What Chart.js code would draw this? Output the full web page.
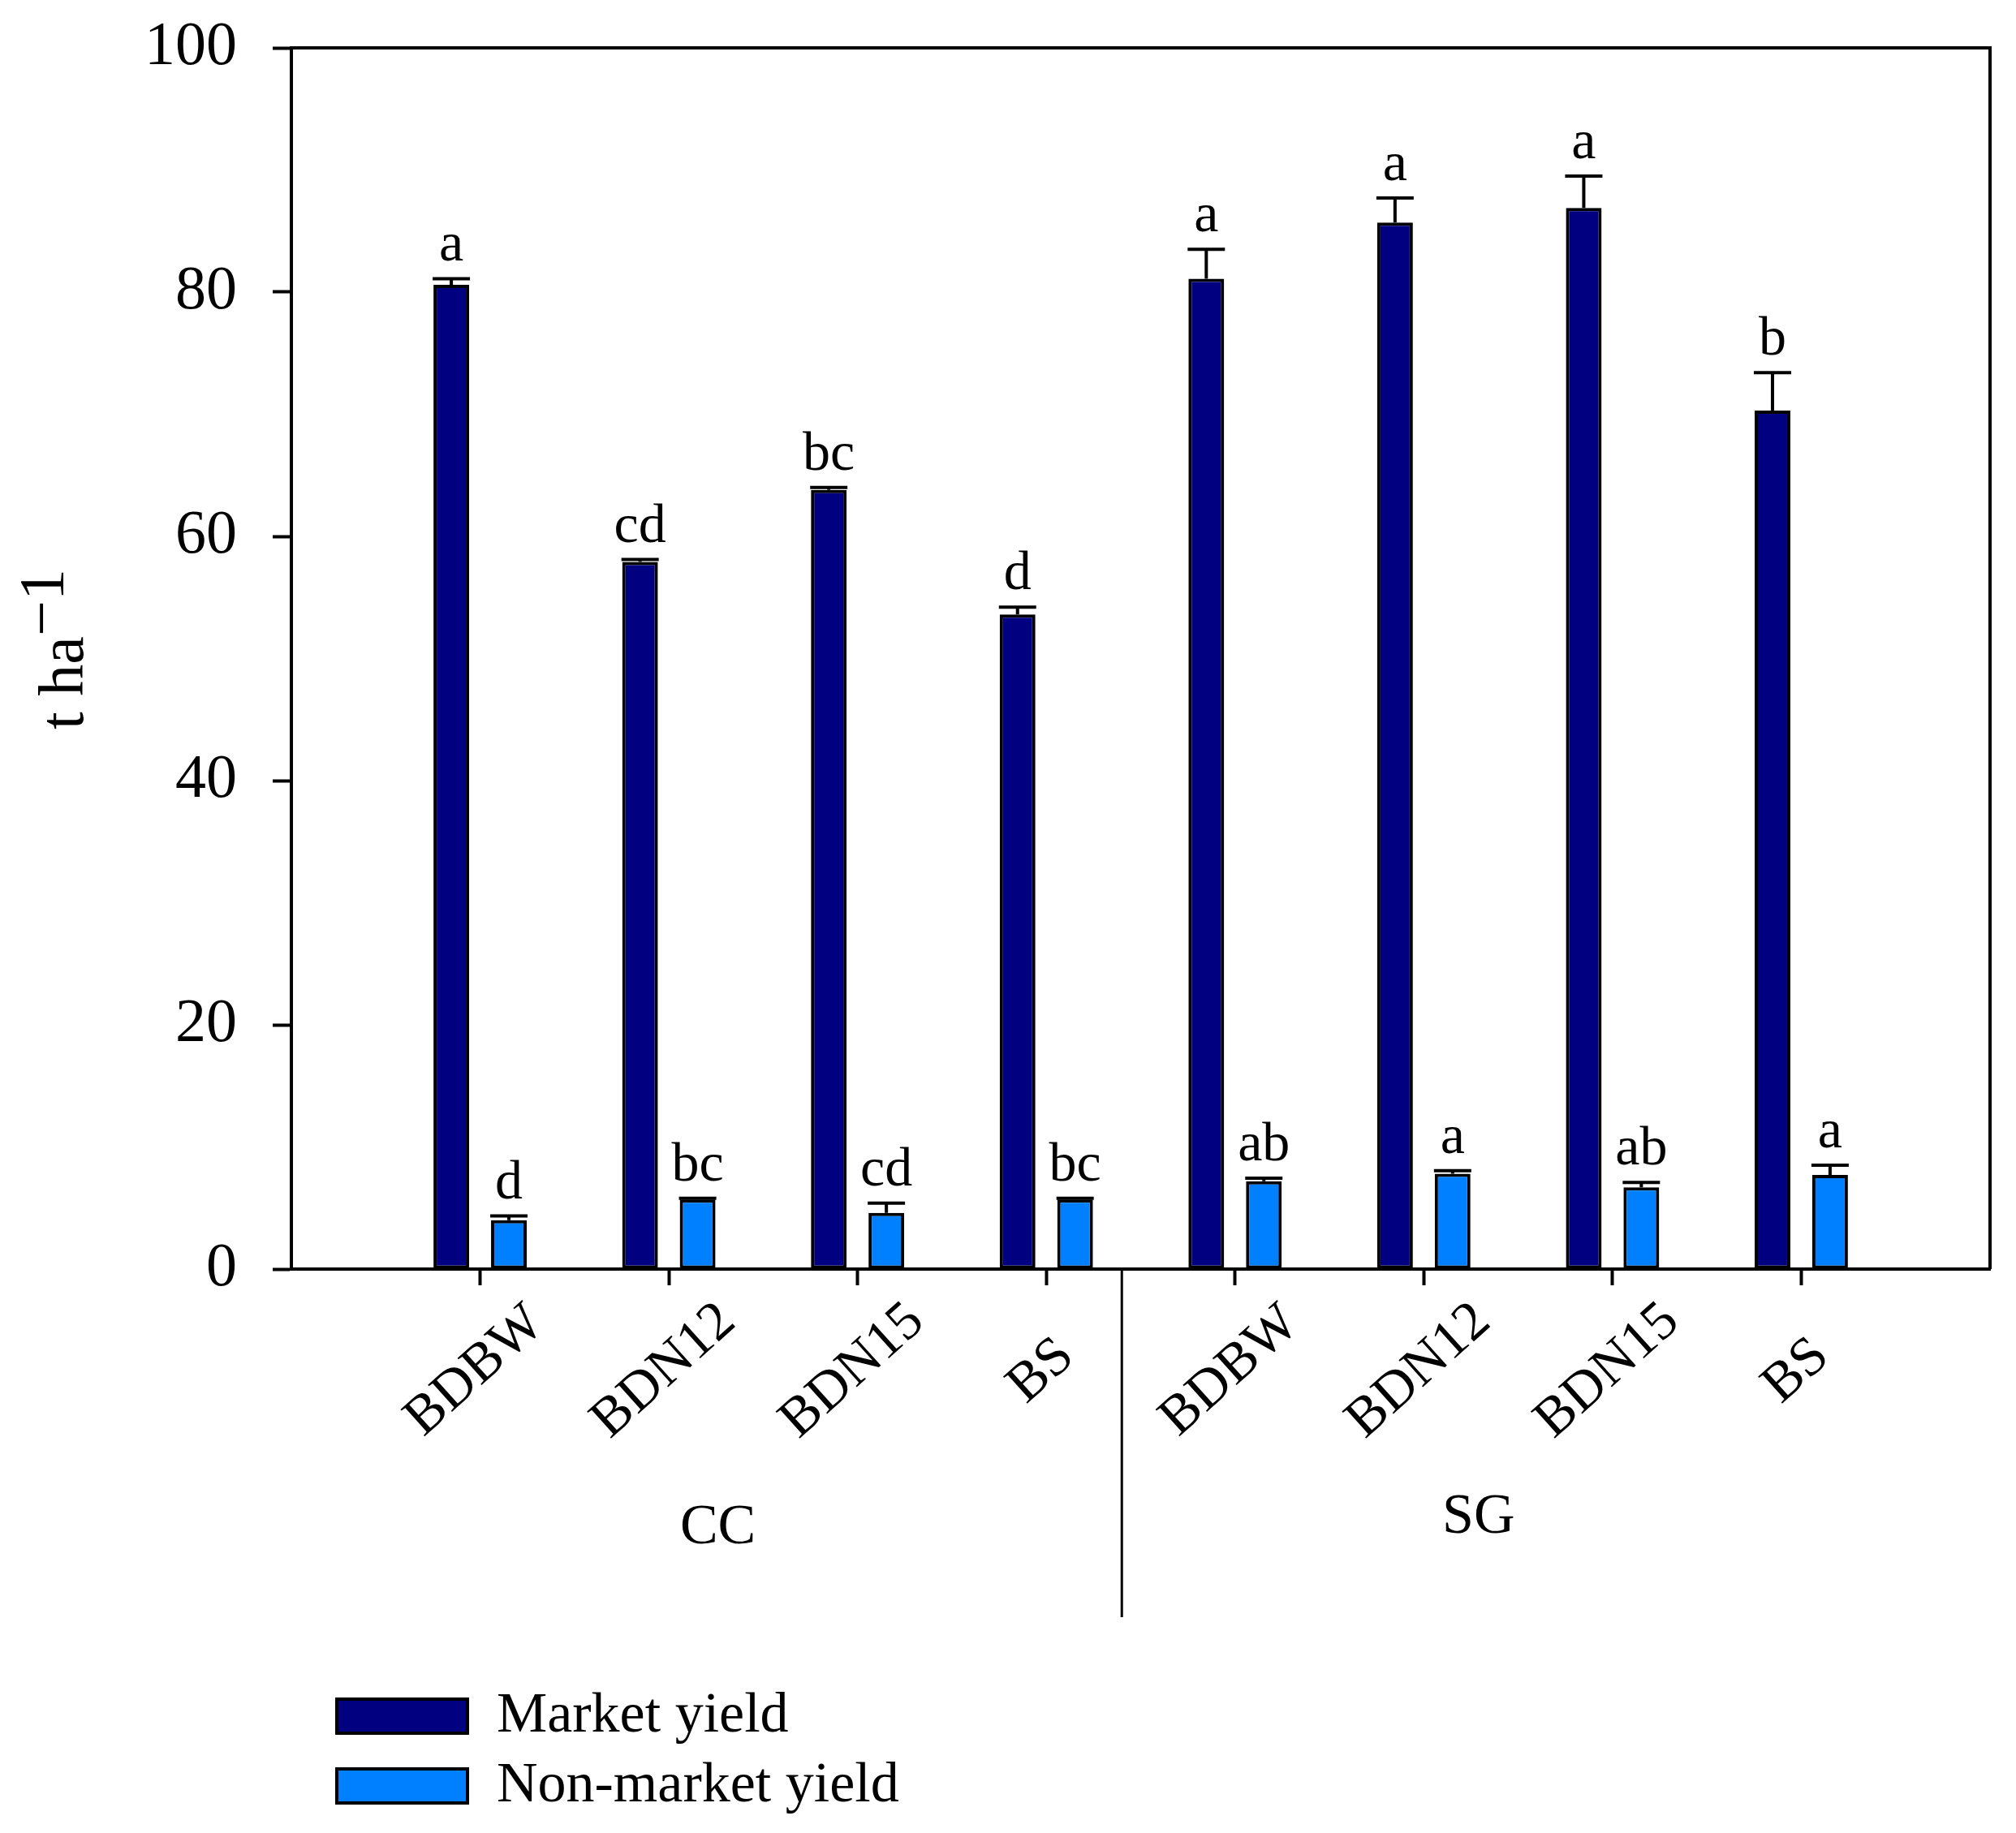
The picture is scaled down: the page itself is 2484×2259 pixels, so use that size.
<!DOCTYPE html>
<html>
<head>
<meta charset="utf-8">
<script src="https://cdn.jsdelivr.net/npm/chart.js@4.4.1/dist/chart.umd.min.js"></script>
<style>
  html, body { margin: 0; padding: 0; background: #fff; }
  #wrap { width: 2484px; height: 2259px; }
</style>
</head>
<body>
<div id="wrap"><canvas id="chart"></canvas></div>
<script>
// categories (treatments) within the two cropping groups
const categories = ['BDBW', 'BDN12', 'BDN15', 'BS', 'BDBW', 'BDN12', 'BDN15', 'BS'];
const groups = ['CC', 'SG'];

// t/ha
const marketYield = [80.6, 57.9, 63.8, 53.6, 81.1, 85.7, 86.9, 70.3];
const marketSE = [0.5, 0.2, 0.2, 0.6, 2.4, 2.0, 2.6, 3.1];
const nonMarketYield = [4.0, 5.7, 4.6, 5.7, 7.2, 7.8, 6.7, 7.7];
const nonMarketSE = [0.35, 0.1, 0.8, 0.1, 0.25, 0.25, 0.4, 0.8];

// significance letters above bars
const marketLetters = ['a', 'cd', 'bc', 'd', 'a', 'a', 'a', 'b'];
const nonMarketLetters = ['d', 'bc', 'cd', 'bc', 'ab', 'a', 'ab', 'a'];

const yTicks = [0, 20, 40, 60, 80, 100];
const seriesNames = ['Market yield', 'Non-market yield'];

const FONT = 'Liberation Serif';
const NAVY = '#000080';
const SKY = '#0080ff';

const toPoints = (vals) => vals.map((v, i) => ({ x: i + 1, y: v }));

// error bars + letters on top of each bar
const errorBarPlugin = {
  id: 'errorBars',
  afterDatasetsDraw(chart) {
    const { ctx } = chart;
    const y = chart.scales.y;
    chart.data.datasets.forEach((ds, di) => {
      const meta = chart.getDatasetMeta(di);
      meta.data.forEach((bar, i) => {
        const v = ds.data[i].y;
        const top = y.getPixelForValue(v + ds.se[i]);
        const base = y.getPixelForValue(v);
        const half = bar.width / 2 + 1;
        ctx.save();
        ctx.strokeStyle = '#000';
        ctx.lineWidth = 4;
        ctx.beginPath();
        ctx.moveTo(bar.x, base);
        ctx.lineTo(bar.x, top);
        ctx.moveTo(bar.x - half, top);
        ctx.lineTo(bar.x + half, top);
        ctx.stroke();
        ctx.fillStyle = '#000';
        ctx.font = `68px ${FONT}`;
        ctx.textAlign = 'center';
        ctx.textBaseline = 'alphabetic';
        ctx.fillText(ds.letters[i], bar.x, top - 22);
        ctx.restore();
      });
    });
  }
};

// frame, group divider, rotated category labels, group names, y title, legend
const decorPlugin = {
  id: 'decor',
  afterDraw(chart) {
    const { ctx, chartArea: a } = chart;
    const x = chart.scales.x;
    ctx.save();
    ctx.strokeStyle = '#000';
    ctx.lineWidth = 4;
    ctx.beginPath();
    ctx.moveTo(a.left, a.top);
    ctx.lineTo(a.right, a.top);
    ctx.lineTo(a.right, a.bottom);
    ctx.stroke();

    // divider between CC and SG
    ctx.lineWidth = 3;
    const sx = x.getPixelForValue(4.4);
    ctx.beginPath();
    ctx.moveTo(sx, a.bottom);
    ctx.lineTo(sx, 1993);
    ctx.stroke();

    ctx.fillStyle = '#000';
    ctx.font = `68px ${FONT}`;
    ctx.textAlign = 'center';
    ctx.textBaseline = 'middle';
    categories.forEach((c, i) => {
      const px = x.getPixelForValue(i + 1);
      ctx.save();
      ctx.translate(px - 6, 1690);
      ctx.rotate(-42 * Math.PI / 180);
      ctx.fillText(c, 0, 0);
      ctx.restore();
    });

    ctx.font = `70px ${FONT}`;
    const groupPos = [[2.26, 1884], [6.29, 1871]];
    groups.forEach((g, i) => {
      ctx.fillText(g, x.getPixelForValue(groupPos[i][0]), groupPos[i][1]);
    });

    // y title with superscript
    ctx.font = `78px ${FONT}`;
    const main = 't ha', sup = '\u22121';
    const mw = ctx.measureText(main).width;
    const tw = mw + ctx.measureText(sup).width;
    ctx.save();
    ctx.translate(102, 800);
    ctx.rotate(-Math.PI / 2);
    ctx.textAlign = 'left';
    ctx.textBaseline = 'alphabetic';
    ctx.fillText(main, -tw / 2, 0);
    ctx.fillText(sup, -tw / 2 + mw, -25);
    ctx.restore();

    // legend
    ctx.font = `70px ${FONT}`;
    ctx.textAlign = 'left';
    ctx.textBaseline = 'alphabetic';
    const rows = [2094, 2180];
    chart.data.datasets.forEach((ds, i) => {
      const top = rows[i];
      ctx.fillStyle = ds.backgroundColor;
      ctx.fillRect(415, top, 161, 42);
      ctx.lineWidth = 4;
      ctx.strokeRect(415, top, 161, 42);
      ctx.fillStyle = '#000';
      ctx.fillText(ds.label, 612, top + 40);
    });
    ctx.restore();
  }
};

new Chart(document.getElementById('chart'), {
  type: 'bar',
  data: {
    datasets: [
      {
        label: seriesNames[0],
        data: toPoints(marketYield),
        se: marketSE,
        letters: marketLetters,
        backgroundColor: NAVY,
        borderColor: '#000',
        borderWidth: 4,
        borderSkipped: false,
        categoryPercentage: 0.61,
        barPercentage: 0.62,
      },
      {
        label: seriesNames[1],
        data: toPoints(nonMarketYield),
        se: nonMarketSE,
        letters: nonMarketLetters,
        backgroundColor: SKY,
        borderColor: '#000',
        borderWidth: 4,
        borderSkipped: false,
        categoryPercentage: 0.61,
        barPercentage: 0.62,
      }
    ]
  },
  options: {
    responsive: true,
    maintainAspectRatio: false,
    devicePixelRatio: 1,
    animation: false,
    layout: { padding: { top: 59, right: 32, left: 0, bottom: 0 } },
    scales: {
      x: {
        type: 'linear',
        min: 0,
        max: 9,
        offset: false,
        afterBuildTicks: (scale) => {
          scale.ticks = categories.map((c, i) => ({ value: i + 1 }));
        },
        afterFit: (scale) => {
          scale.height = 695;
          scale.paddingLeft = 0;
          scale.paddingRight = 0;
        },
        ticks: { display: false },
        grid: {
          offset: false,
          drawOnChartArea: false,
          drawTicks: true,
          tickLength: 20,
          tickWidth: 4,
          tickColor: '#000',
        },
        border: { display: true, color: '#000', width: 4 },
      },
      y: {
        min: 0,
        max: 100,
        afterBuildTicks: (scale) => {
          scale.ticks = yTicks.map((v) => ({ value: v }));
        },
        afterFit: (scale) => {
          scale.width = 359;
          scale.paddingTop = 0;
          scale.paddingBottom = 0;
        },
        ticks: {
          color: '#000',
          padding: 44,
          font: { family: FONT, size: 76 },
        },
        grid: {
          drawOnChartArea: false,
          drawTicks: true,
          tickLength: 23,
          tickWidth: 4,
          tickColor: '#000',
        },
        border: { display: true, color: '#000', width: 4 },
      }
    },
    plugins: {
      legend: { display: false },
      tooltip: { enabled: false },
    }
  },
  plugins: [errorBarPlugin, decorPlugin]
});
</script>
</body>
</html>
